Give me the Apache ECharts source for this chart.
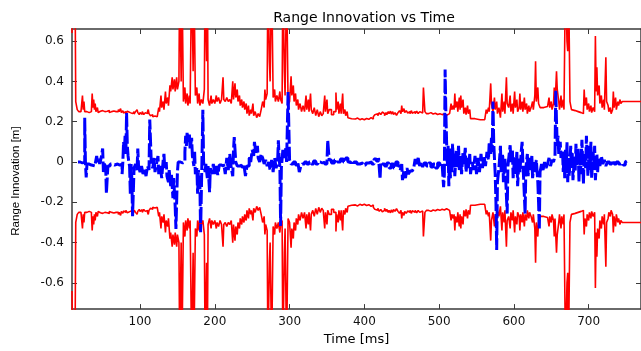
<!DOCTYPE html>
<html><head><meta charset="utf-8">
<script src="https://cdn.jsdelivr.net/npm/echarts@6/dist/echarts.min.js"></script>
<style>html,body{margin:0;padding:0;background:#fff}#c{width:641px;height:351px}</style>
</head><body><div id="c"></div>
<script>
const titleText = 'Range Innovation vs Time';
const xName = 'Time [ms]';
const yName = 'Range Innovation [m]';
const xTicks = [100, 200, 300, 400, 500, 600, 700];
const yTicks = [-0.6, -0.4, -0.2, 0, 0.2, 0.4, 0.6];
const xRange = [9, 770];
const yRange = [-0.73, 0.66];

// 2-sigma bound [time ms, value m] (red, plotted as + and -)
const twoSigma = [
[9,0.64],[10,0.95],[13,0.95],[14,0.30],[16,0.26],[18,0.25],[21,0.245],[23,0.33],[24,0.26],[25,0.30],[26,0.25],[29,0.245],[32,0.25],[35,0.26],[36,0.34],[37,0.27],[38,0.31],[39,0.26],[40,0.29],
[41,0.25],[43,0.27],[44,0.245],[46,0.252],[47,0.245],[49,0.255],[50,0.247],[52,0.25],[53,0.243],[55,0.252],[56,0.246],[58,0.255],[59,0.245],[61,0.25],[62,0.243],[64,0.253],[65,0.245],[67,0.25],[68,0.242],[70,0.25],[71,0.26],[72,0.25],[74,0.265],[75,0.245],[77,0.255],[78,0.243],[80,0.25],[81,0.24],[83,0.252],[84,0.26],[85,0.245],[87,0.25],[88,0.24],[90,0.248],[91,0.25],[92,0.238],[94,0.25],[96,0.26],[97,0.245],[99,0.235],[100,0.245],[102,0.237],[103,0.25],[105,0.235],[107,0.245],[108,0.24],[110,0.25],[111,0.26],[112,0.24],[114,0.23],[115,0.235],[117,0.225],[119,0.228],[120,0.22],[122,0.225],[123,0.23],
[125,0.27],[126,0.25],[128,0.33],[129,0.27],[131,0.30],[132,0.26],[134,0.35],[135,0.29],[137,0.32],[138,0.28],[140,0.38],[141,0.35],[143,0.42],[144,0.36],[146,0.41],[147,0.35],[149,0.42],[150,0.36],[152,0.40],[153,0.95],[155,0.40],[156,0.95],[158,0.30],[160,0.37],[161,0.29],[163,0.34],[164,0.28],[166,0.33],[167,0.29],[169,0.95],[171,0.45],[172,0.95],[174,0.33],[176,0.37],[177,0.29],[179,0.34],[180,0.28],[182,0.31],[184,0.29],[186,0.36],[187,0.95],[189,0.50],[190,0.95],[191,0.31],[193,0.28],[195,0.33],[196,0.29],[198,0.31],[200,0.29],
[202,0.33],[203,0.30],[205,0.32],[207,0.29],[209,0.31],[211,0.42],[212,0.31],[214,0.30],[216,0.32],[218,0.30],[220,0.31],[222,0.29],[224,0.40],[225,0.31],[227,0.39],[228,0.32],[230,0.36],[231,0.30],[233,0.33],[234,0.28],[236,0.31],[237,0.27],[239,0.30],[240,0.26],[242,0.29],[243,0.24],[245,0.28],[246,0.23],[248,0.26],[249,0.24],[251,0.29],[252,0.23],[254,0.25],[256,0.22],[258,0.24],[260,0.225],[262,0.26],[264,0.30],[266,0.27],[267,0.36],[268,0.31],[270,0.34],[271,0.95],[273,0.50],[274,0.40],[276,0.95],[278,0.32],[280,0.36],[281,0.30],[283,0.33],[285,0.30],[287,0.35],[288,0.31],[290,0.29],[291,0.95],[293,0.45],[294,0.33],[296,0.95],[298,0.28],[300,0.30],
[302,0.425],[303,0.33],[305,0.38],[306,0.30],[308,0.34],[309,0.28],[311,0.31],[312,0.26],[314,0.29],[316,0.25],[318,0.28],[320,0.25],[322,0.33],[323,0.26],[325,0.31],[326,0.25],[328,0.34],[329,0.26],[331,0.24],[333,0.27],[335,0.23],[337,0.26],[339,0.225],[341,0.25],[343,0.23],[345,0.24],[347,0.33],[348,0.25],[350,0.31],[351,0.24],[353,0.26],[356,0.235],[359,0.25],[362,0.345],[363,0.26],[365,0.30],[366,0.24],[368,0.29],[369,0.24],[371,0.34],[372,0.24],[374,0.26],[375,0.23],[377,0.25],
[378,0.22],[380,0.215],[383,0.22],[385,0.213],[388,0.218],[391,0.21],[394,0.215],[397,0.21],[400,0.216],[403,0.212],[406,0.22],[409,0.213],[412,0.225],[414,0.235],[416,0.24],[418,0.23],[420,0.245],[422,0.235],[424,0.248],[425,0.24],[427,0.23],[429,0.245],[430,0.235],[432,0.25],[433,0.24],[435,0.252],[436,0.238],[438,0.25],[439,0.235],[441,0.245],[443,0.232],[445,0.245],[447,0.255],[449,0.24],[450,0.28],[451,0.25],[453,0.265],[454,0.245],[456,0.255],[458,0.243],[460,0.25],[461,0.24],[463,0.255],[464,0.242],[466,0.25],[468,0.24],[470,0.252],[472,0.24],[474,0.25],[476,0.243],[478,0.245],[479,0.37],[481,0.25],[483,0.24],[486,0.245],[489,0.238],[492,0.242],[495,0.236],[498,0.24],[501,0.235],[504,0.238],[507,0.232],[510,0.235],[512,0.24],[514,0.235],
[516,0.29],[517,0.26],[519,0.28],[520,0.26],[521,0.34],[522,0.27],[524,0.30],[525,0.25],[527,0.32],[528,0.26],[529,0.33],[530,0.27],[532,0.31],[533,0.24],[535,0.27],[536,0.235],[538,0.28],[539,0.24],[541,0.26],[542,0.215],[548,0.21],[555,0.21],[561,0.21],
[563,0.26],[564,0.24],[566,0.27],[567,0.25],[569,0.39],[570,0.29],[572,0.25],[574,0.32],[575,0.26],[577,0.30],[578,0.24],[580,0.27],[582,0.22],[584,0.34],[585,0.25],[587,0.30],[588,0.24],[590,0.42],[591,0.29],[593,0.27],[595,0.33],[596,0.25],[598,0.29],[599,0.24],[601,0.35],[602,0.27],[604,0.31],[605,0.25],[607,0.27],[608,0.34],[609,0.26],[611,0.30],[612,0.25],[614,0.32],[615,0.26],[617,0.29],[618,0.24],[620,0.28],[621,0.25],[623,0.27],[625,0.30],[626,0.26],[628,0.33],[629,0.50],[630,0.30],[632,0.37],[633,0.29],[635,0.27],[640,0.275],[645,0.28],[647,0.32],[648,0.27],[650,0.30],[651,0.26],[653,0.29],[654,0.37],[655,0.28],[657,0.45],[658,0.36],[660,0.30],[661,0.26],[663,0.33],[664,0.27],[666,0.31],[667,0.26],[669,0.95],[671,0.60],[672,0.55],[673,0.95],[675,0.30],[677,0.26],[679,0.255],[682,0.25],[686,0.245],[690,0.24],[693,0.25],[694,0.36],[695,0.28],[697,0.32],[698,0.26],[700,0.29],
[701,0.25],[703,0.28],[704,0.245],[706,0.27],[708,0.25],[709,0.625],[710,0.35],[711,0.47],[712,0.33],[714,0.38],[715,0.29],[717,0.33],[718,0.27],[720,0.31],[721,0.26],[723,0.52],[724,0.30],[726,0.28],[727,0.25],[729,0.27],[730,0.24],[732,0.26],[733,0.35],[734,0.27],[736,0.32],[737,0.26],[739,0.30],[740,0.28],[742,0.31],[743,0.29],[745,0.30],[770,0.30]
];

// range innovation [time ms, value m] (blue dashed)
const innovation = [
[17,0],[20,-0.005],[23,0.0],[26,0.22],[27,-0.01],[28,-0.077],[29,-0.01],[32,-0.015],[35,-0.01],[37,-0.02],[40,-0.01],[42,0.03],[43,0.0],[45,0.015],[46,-0.01],[48,0.02],[50,0.067],[51,-0.05],[52,-0.01],[54,-0.02],[55,-0.157],[57,-0.02],[60,-0.01],[63,-0.015],[66,-0.01],[70,-0.015],[73,-0.01],[76,-0.06],[77,0.0],[78,0.10],[79,0.05],[80,0.13],[81,0.04],[82,0.243],[83,0.08],[84,0.03],[85,0.0],[86,-0.02],[87,-0.157],[88,-0.01],[89,-0.08],[90,-0.269],[92,-0.03],[94,-0.01],[96,-0.04],[97,0.067],[98,-0.02],[100,-0.05],
[102,-0.02],[104,-0.06],[106,-0.03],[108,-0.07],[110,-0.02],[112,-0.04],[113,0.211],[115,0.0],[117,-0.03],[119,0.02],[120,-0.05],[122,-0.01],[124,0.03],[125,-0.06],[127,-0.02],[129,-0.08],[131,0.01],[132,0.04],[133,-0.03],[135,0.0],[136,-0.07],[138,-0.10],[139,-0.04],[141,-0.12],[142,-0.06],[144,-0.18],[145,-0.08],[147,-0.22],[148,-0.332],[150,-0.05],[151,0.0],[154,-0.005],[157,0.0],[160,0.05],[161,0.13],[162,0.08],[163,0.15],[164,0.10],[166,0.14],[167,0.06],[169,0.12],[170,0.03],[172,-0.02],[173,0.05],[174,-0.06],[176,-0.03],[177,-0.157],[178,-0.04],[180,-0.10],[181,-0.348],[183,0.05],[184,0.259],[185,0.0],[187,-0.05],[188,-0.01],[190,-0.08],[191,-0.02],[193,-0.15],[194,-0.03],[196,-0.06],[198,-0.01],[200,-0.06],
[202,-0.02],[204,-0.065],[206,-0.015],[209,-0.02],[212,-0.01],[214,-0.06],[216,0.02],[218,-0.04],[220,0.04],[222,-0.03],[224,-0.07],[225,0.06],[226,0.123],[228,0.0],[230,-0.02],[233,-0.015],[236,-0.025],[239,-0.015],[241,-0.07],[243,-0.02],[246,0.03],[248,0.0],[250,0.06],[252,0.03],[253,0.10],[255,0.04],[257,0.08],[258,0.02],[260,0.0],[262,0.04],[264,0.02],[266,-0.01],[268,0.01],[270,-0.02],[272,0.0],[274,-0.04],[276,0.01],[278,-0.05],[280,0.02],[282,-0.03],[284,0.0],[285,0.108],[286,0.02],[287,-0.02],[288,-0.317],[289,-0.03],[291,0.06],[293,0.02],[295,0.07],[296,0.0],[298,0.347],[300,0.01],
[302,-0.01],[305,0.0],[308,-0.015],[311,0.0],[313,-0.05],[315,-0.02],[317,-0.01],[320,0.0],[323,-0.01],[326,0.0],[329,-0.01],[332,0.005],[335,-0.01],[338,0.0],[341,-0.005],[344,0.0],[347,-0.01],[350,0.0],[351,0.108],[353,0.01],[356,-0.005],[360,0.01],[364,0.0],[368,0.015],[372,0.0],[375,0.02],[378,0.0],[382,-0.01],[386,0.0],[390,-0.01],[394,-0.005],[398,-0.015],
[402,-0.005],[406,0.0],[410,-0.01],[413,0.015],[416,0.005],[419,0.02],[421,-0.085],[422,0.0],[424,-0.01],[427,-0.02],[430,-0.005],[433,-0.03],[436,-0.01],[439,-0.03],[442,0.0],[445,-0.02],[448,-0.04],[450,-0.01],[451,-0.09],[453,-0.04],[455,-0.08],[457,-0.03],[459,-0.06],[461,-0.045],[464,-0.05],[466,-0.03],[468,0.015],[470,-0.01],[472,0.02],[474,-0.02],[476,0.0],[478,-0.025],[480,-0.005],[483,-0.02],[486,-0.005],[489,-0.025],[492,-0.01],[495,-0.03],[498,-0.005],[501,-0.02],[504,-0.01],[506,-0.125],[507,-0.06],[508,0.459],[509,0.25],[510,0.10],[511,-0.02],[512,0.08],[513,-0.12],[514,0.07],[515,-0.08],[516,0.04],[517,-0.05],[518,0.09],[519,-0.02],[520,0.05],[521,-0.07],[523,0.06],[524,-0.03],[526,0.08],[527,-0.04],[529,0.03],[530,-0.06],[532,0.05],[533,-0.01],[535,0.07],[536,-0.05],[538,0.02],[539,-0.03],[541,0.04],[542,-0.06],[544,0.0],[546,-0.04],[548,0.03],[550,-0.06],[552,0.02],[554,-0.05],[556,0.04],[558,-0.03],[560,0.03],[562,-0.02],[564,0.05],[566,0.01],[567,0.10],[569,0.04],[570,0.12],[571,0.05],[572,0.30],[573,0.10],[574,0.02],[575,-0.06],[576,-0.20],[577,-0.437],[578,-0.10],[580,-0.03],
[582,0.08],[583,-0.05],[585,0.04],[586,-0.10],[588,0.02],[589,-0.08],[591,-0.256],[592,-0.02],[594,0.05],[595,0.083],[596,0.0],[598,0.06],[599,-0.08],[601,0.03],[602,-0.06],[604,0.05],[605,-0.12],[607,0.02],[608,-0.05],[610,0.06],[611,0.10],[612,0.0],[613,-0.08],[615,-0.256],[616,-0.03],[618,0.04],[619,-0.07],[621,0.02],[622,-0.04],[624,0.03],[625,-0.08],[627,0.0],[628,-0.05],[630,0.01],[632,-0.10],[633,-0.20],[634,-0.336],[635,-0.05],[637,-0.01],[639,-0.04],[641,0.0],[643,-0.03],[645,-0.01],[647,0.02],[649,-0.02],[651,0.01],[653,0.0],[655,0.03],[656,0.355],[657,0.20],[658,0.08],[659,0.13],[660,0.04],[662,0.10],[663,0.02],[665,0.06],[666,-0.05],[667,0.03],[668,-0.08],[669,0.06],[670,-0.04],[671,0.10],[672,-0.10],[673,0.02],[674,-0.07],[676,0.08],[677,-0.03],[678,0.05],[679,-0.09],[681,0.03],[682,-0.05],[683,0.09],[684,-0.02],[686,0.07],[687,-0.10],[688,0.02],[689,-0.06],[691,0.11],[692,0.0],[693,-0.11],[694,0.04],[696,-0.03],[697,0.13],[698,0.02],[699,-0.07],
[701,0.08],[702,-0.04],[703,0.10],[704,-0.08],[706,0.05],[707,-0.02],[708,0.08],[709,-0.09],[711,0.04],[712,-0.05],[713,0.02],[715,-0.02],[717,0.03],[719,-0.01],[721,0.01],[723,-0.02],[725,0.0],[728,-0.01],[731,0.005],[734,-0.01],[737,0.0],[740,-0.01],[743,-0.005],[746,-0.015],[749,0.0],[751,0.005]
];

const upperBound = twoSigma.map(p => [p[0], p[1]]);
const lowerBound = twoSigma.map(p => [p[0], -p[1]]);

const axisColor = '#3a3a3a';
const labelFont = { fontFamily: 'DejaVu Sans', fontSize: 12, color: '#111' };

const chart = echarts.init(document.getElementById('c'), null, { renderer: 'canvas' });
chart.setOption({
  animation: false,
  backgroundColor: '#ffffff',
  title: {
    text: titleText, left: 359, top: 6, textAlign: 'center',
    textStyle: { fontFamily: 'DejaVu Sans', fontSize: 14, fontWeight: 'normal', color: '#000' }
  },
  grid: { left: 72, right: 0, top: 29, bottom: 31, containLabel: false },
  xAxis: [{
    type: 'value', min: xRange[0], max: xRange[1],
    name: xName, nameLocation: 'middle', nameGap: 20,
    nameTextStyle: { fontFamily: 'DejaVu Sans', fontSize: 13, color: '#000' },
    axisLine: { show: true, onZero: false, lineStyle: { color: axisColor, width: 1.5 } },
    axisTick: { show: true, inside: true, length: 5, customValues: xTicks, lineStyle: { color: axisColor } },
    axisLabel: Object.assign({ customValues: xTicks, margin: 7 }, labelFont),
    splitLine: { show: false }
  }, {
    type: 'value', position: 'top', min: xRange[0], max: xRange[1],
    axisLine: { show: true, onZero: false, lineStyle: { color: axisColor, width: 1.5 } },
    axisTick: { show: true, inside: true, length: 5, customValues: xTicks, lineStyle: { color: axisColor } },
    axisLabel: { show: false }, splitLine: { show: false }
  }],
  yAxis: [{
    type: 'value', min: yRange[0], max: yRange[1],
    name: yName, nameLocation: 'middle', nameGap: 50, nameRotate: 90,
    nameTextStyle: { fontFamily: 'Liberation Sans', fontSize: 11.5, color: '#000', padding: [0, 24, 0, 0] },
    axisLine: { show: true, onZero: false, lineStyle: { color: axisColor, width: 1.5 } },
    axisTick: { show: true, inside: true, length: 5, customValues: yTicks, lineStyle: { color: axisColor } },
    axisLabel: Object.assign({ customValues: yTicks, margin: 8 }, labelFont),
    splitLine: { show: false }
  }, {
    type: 'value', position: 'right', min: yRange[0], max: yRange[1],
    axisLine: { show: true, onZero: false, lineStyle: { color: axisColor, width: 1.5 } },
    axisTick: { show: true, inside: true, length: 5, customValues: yTicks, lineStyle: { color: axisColor } },
    axisLabel: { show: false }, splitLine: { show: false }
  }],
  series: [{
    name: '+2σ', type: 'line', data: upperBound, step: 'end', symbol: 'none', clip: true,
    lineStyle: { color: '#ff0000', width: 1.6 }, z: 2
  }, {
    name: '-2σ', type: 'line', data: lowerBound, step: 'end', symbol: 'none', clip: true,
    lineStyle: { color: '#ff0000', width: 1.6 }, z: 2
  }, {
    name: 'innovation', type: 'line', data: innovation, step: 'end', symbol: 'none', clip: true,
    lineStyle: { color: '#0000ff', width: 3, type: [14, 3] }, z: 3
  }]
});
</script>
</body></html>
